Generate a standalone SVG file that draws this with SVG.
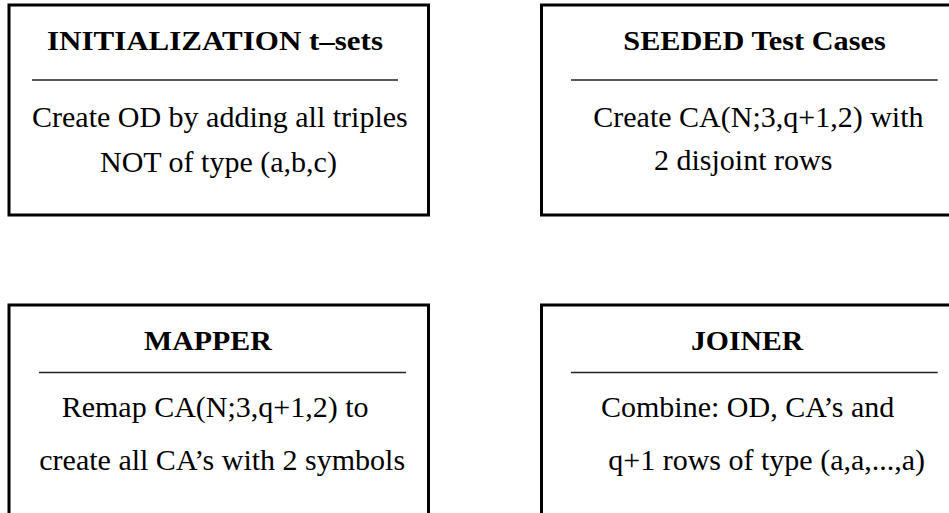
<svg xmlns="http://www.w3.org/2000/svg" width="949" height="513" viewBox="0 0 949 513">
<style>
.box{fill:#fff;stroke:#000;stroke-width:3}
.div{stroke:#222;stroke-width:1.3}
.t{font-family:"Liberation Serif","Times New Roman",serif;font-weight:bold;font-size:27px;fill:#000}
.b{font-family:"Liberation Serif","Times New Roman",serif;font-size:30px;fill:#000}
</style>
<rect width="949" height="513" fill="#fff"/>
<g id="init">
<rect class="box" x="9" y="5" width="419.5" height="210"/>
<text class="t" x="47" y="49.5" textLength="336" lengthAdjust="spacingAndGlyphs">INITIALIZATION  t–sets</text>
<line class="div" x1="32" y1="80" x2="398" y2="80"/>
<text class="b" x="32" y="126.5">Create OD by adding all triples</text>
<text class="b" x="100" y="172">NOT of type (a,b,c)</text>
</g>
<g id="seeded">
<rect class="box" x="541.5" y="5" width="430" height="210"/>
<text class="t" x="623.3" y="49.5" textLength="262.4" lengthAdjust="spacingAndGlyphs">SEEDED Test Cases</text>
<line class="div" x1="571" y1="80" x2="937.7" y2="80"/>
<text class="b" x="593.3" y="126.5">Create CA(N;3,q+1,2) with</text>
<text class="b" x="654" y="170">2 disjoint rows</text>
</g>
<g id="mapper">
<rect class="box" x="9" y="305" width="419.5" height="230"/>
<text class="t" x="144" y="349.5" textLength="127.7" lengthAdjust="spacingAndGlyphs">MAPPER</text>
<line class="div" x1="39" y1="372.5" x2="406" y2="372.5"/>
<text class="b" x="61.7" y="416.7">Remap CA(N;3,q+1,2) to</text>
<text class="b" x="39.3" y="470">create all CA’s with 2 symbols</text>
</g>
<g id="joiner">
<rect class="box" x="541.5" y="305" width="430" height="230"/>
<text class="t" x="691" y="349.5" textLength="112.3" lengthAdjust="spacingAndGlyphs">JOINER</text>
<line class="div" x1="571" y1="372.5" x2="937.7" y2="372.5"/>
<text class="b" x="601" y="417.3">Combine: OD, CA’s and</text>
<text class="b" x="608.3" y="470">q+1 rows of type (a,a,...,a)</text>
</g>
<g id="connectors"></g>
</svg>
